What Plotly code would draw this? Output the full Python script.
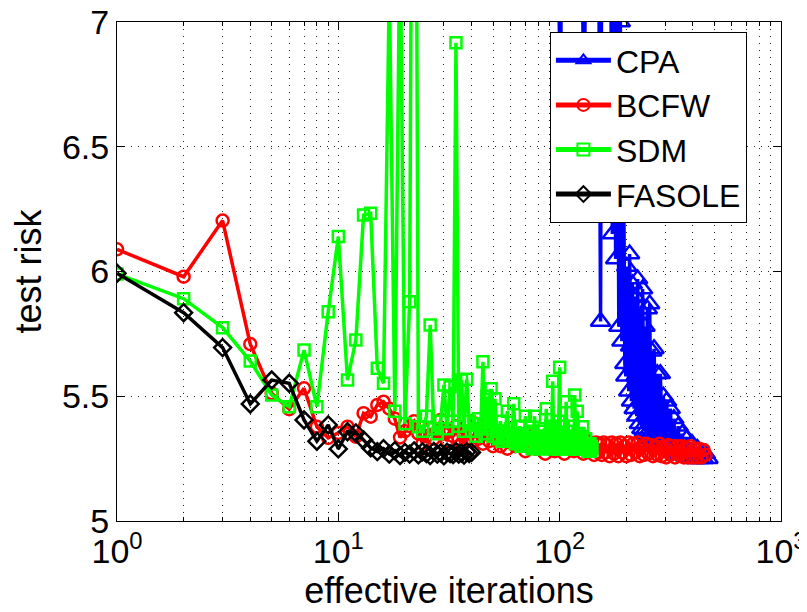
import plotly.graph_objects as go

# effective iterations / test risk

cpa_iters = [60, 75, 88, 101, 106, 121, 129, 136, 146, 153, 157, 166, 170,
             173, 176, 179, 182, 185, 188, 191, 194, 197,
             199, 201, 203, 205, 207, 209, 211, 213, 215, 217, 219, 221, 223, 225,
             227, 229, 231, 233, 235, 237, 239, 241, 243, 245, 247, 249, 251, 253,
             255, 257, 259, 261, 263, 265, 267, 270, 273, 276, 279, 282, 285, 288,
             291, 294, 297, 300, 304, 308, 312, 316, 320, 324, 328, 333, 338, 343,
             348, 353, 358, 364, 370, 376, 382, 389, 396, 403, 411, 419, 427, 436,
             445, 455, 468]
cpa_risk = [14.0, 11.0, 9.5, 6.7, 10.5, 8.5, 6.6, 9.0, 9.5, 5.80, 9.2, 8.0, 7.3,
            6.15, 7.6, 6.05, 7.4, 5.78, 7.0, 5.72, 6.6, 5.63,
            5.58, 6.02, 5.80, 5.52, 6.07, 5.70, 5.48, 5.95, 5.62, 5.45, 5.90, 5.58, 5.42, 5.97,
            5.66, 5.39, 5.85, 5.55, 5.37, 5.93, 5.60, 5.36, 5.78, 5.50, 5.35, 5.85, 5.56, 5.34,
            5.87, 5.48, 5.33, 5.68, 5.45, 5.32, 5.69, 5.42, 5.31, 5.59, 5.40, 5.31, 5.59, 5.38,
            5.30, 5.50, 5.36, 5.29, 5.48, 5.34, 5.29, 5.45, 5.32, 5.28, 5.41, 5.30, 5.27, 5.38,
            5.29, 5.27, 5.35, 5.28, 5.26, 5.33, 5.27, 5.26, 5.31, 5.26, 5.25, 5.29, 5.25, 5.27,
            5.25, 5.27, 5.25]

bcfw_iters = list(range(1, 51)) + [52, 54, 56, 58, 60, 63, 66, 70, 74, 78, 82, 86,
             90, 95, 100, 105, 110, 116, 122, 128, 134,
             140, 143, 146, 149, 152, 155, 158, 161, 164, 168, 172, 176, 180, 184,
             188, 192, 196, 200, 205, 210, 215, 220, 225, 230, 235, 240, 246, 252,
             258, 264, 270, 276, 282, 289, 296, 303, 310, 317, 324, 332, 340, 348,
             356, 364, 372, 381, 390, 399, 408, 417, 427, 437, 447, 456]
bcfw_risk = [6.089, 5.979, 6.204, 5.709, 5.512, 5.448, 5.532, 5.378, 5.333, 5.353,
             5.378, 5.338, 5.432, 5.418, 5.465, 5.478, 5.45, 5.41, 5.335, 5.36,
             5.38, 5.40, 5.35, 5.31, 5.34, 5.37, 5.33, 5.36, 5.405, 5.35,
             5.32, 5.36, 5.34, 5.38, 5.33, 5.31, 5.35, 5.33, 5.36, 5.32,
             5.34, 5.39, 5.33, 5.37, 5.31, 5.35, 5.39, 5.32, 5.34, 5.30,
             5.35, 5.30, 5.34, 5.29, 5.35, 5.30, 5.33, 5.28, 5.34, 5.29, 5.32, 5.27,
             5.33, 5.28, 5.32, 5.27, 5.32, 5.28, 5.31, 5.27, 5.32,
             5.31, 5.265, 5.315, 5.275, 5.31, 5.265, 5.315, 5.275, 5.305, 5.26,
             5.315, 5.27, 5.31, 5.26, 5.315, 5.275, 5.30, 5.26, 5.315, 5.265,
             5.31, 5.275, 5.315, 5.26, 5.30, 5.265, 5.31, 5.27, 5.305, 5.26,
             5.30, 5.265, 5.31, 5.26, 5.30, 5.255, 5.305, 5.265, 5.30, 5.255,
             5.30, 5.265, 5.30, 5.255, 5.295, 5.255, 5.30, 5.255, 5.29, 5.255,
             5.29, 5.255, 5.285, 5.265]

sdm_iters = list(range(1, 141))
sdm_risk = [5.990, 5.891, 5.775, 5.641, 5.505, 5.458, 5.685, 5.458, 5.839, 6.140,
            5.565, 5.725, 6.226, 6.233, 5.612, 5.552, 7.15, 5.440, 7.40, 5.390,
            5.879, 9.80, 5.378, 5.360, 5.420, 5.786, 5.370, 5.350, 5.400, 5.545,
            5.370, 5.538, 5.400, 6.917, 5.380, 5.565, 5.360, 5.568, 5.400, 5.360,
            5.390, 5.340, 5.410, 5.370, 5.638, 5.350, 5.500, 5.370, 5.530, 5.340,
            5.490, 5.360, 5.330, 5.400, 5.320, 5.360, 5.340, 5.440, 5.320, 5.370,
            5.330, 5.470, 5.310, 5.350, 5.320, 5.380, 5.300, 5.340, 5.310, 5.420,
            5.300, 5.350, 5.310, 5.360, 5.290, 5.330, 5.420, 5.300, 5.340, 5.290,
            5.360, 5.310, 5.330, 5.290, 5.370, 5.300, 5.450, 5.300, 5.340, 5.290,
            5.380, 5.300, 5.560, 5.290, 5.350, 5.300, 5.330, 5.290, 5.400, 5.616,
            5.290, 5.350, 5.300, 5.380, 5.290, 5.330, 5.478, 5.300, 5.340, 5.290,
            5.360, 5.290, 5.320, 5.300, 5.380, 5.290, 5.505, 5.300, 5.330, 5.440,
            5.290, 5.350, 5.300, 5.320, 5.290, 5.340, 5.378, 5.290, 5.310, 5.300,
            5.330, 5.290, 5.310, 5.280, 5.300, 5.290, 5.310, 5.280, 5.300, 5.290]

fasole_iters = list(range(1, 41))
fasole_risk = [5.993, 5.835, 5.695, 5.469, 5.565, 5.552, 5.405, 5.320, 5.385, 5.289,
               5.358, 5.353, 5.325, 5.293, 5.278, 5.290, 5.268, 5.282, 5.262, 5.275,
               5.268, 5.281, 5.265, 5.277, 5.270, 5.262, 5.279, 5.268, 5.273, 5.261,
               5.276, 5.270, 5.266, 5.279, 5.268, 5.272, 5.264, 5.277, 5.270, 5.275]

x_tickvals = [1, 10, 100, 1000]
x_ticktext = ['10<sup>0</sup>', '10<sup>1</sup>', '10<sup>2</sup>', '10<sup>3</sup>']
x_minor = [2, 3, 4, 5, 6, 7, 8, 9, 20, 30, 40, 50, 60, 70, 80, 90,
           200, 300, 400, 500, 600, 700, 800, 900]

FONT = 'Liberation Sans, Arial, Helvetica, sans-serif'

fig = go.Figure()

fig.add_trace(go.Scatter(x=cpa_iters, y=cpa_risk, name='CPA', mode='lines+markers',
                         line=dict(color='#0000ff', width=3.5),
                         marker=dict(symbol='triangle-up-open', size=17, color='#0000ff',
                                     line=dict(width=2.5))))
fig.add_trace(go.Scatter(x=bcfw_iters, y=bcfw_risk, name='BCFW', mode='lines+markers',
                         line=dict(color='#ff0000', width=3.5),
                         marker=dict(symbol='circle-open', size=12, color='#ff0000',
                                     line=dict(width=2.5))))
fig.add_trace(go.Scatter(x=sdm_iters, y=sdm_risk, name='SDM', mode='lines+markers',
                         line=dict(color='#00ff00', width=3.5),
                         marker=dict(symbol='square-open', size=11, color='#00ff00',
                                     line=dict(width=2.5))))
fig.add_trace(go.Scatter(x=fasole_iters, y=fasole_risk, name='FASOLE', mode='lines+markers',
                         line=dict(color='#000000', width=3.5),
                         marker=dict(symbol='diamond-open', size=13, color='#000000',
                                     line=dict(width=2.5))))

# page body adds an 8px offset, so the figure is a bit smaller than the window
fig.update_layout(
    width=799, height=604,
    margin=dict(l=109, r=26, t=14, b=91),
    paper_bgcolor='white', plot_bgcolor='white',
    font=dict(family=FONT, size=34, color='black'),
    showlegend=True,
    legend=dict(x=0.652, y=0.98, xanchor='left', yanchor='top',
                bgcolor='white', bordercolor='black', borderwidth=1,
                font=dict(size=32), itemsizing='constant', itemwidth=55,
                tracegroupgap=0),
)

fig.update_xaxes(type='log', range=[0, 3], automargin=False, ticklabeloverflow='allow',
                 tickmode='array', tickvals=x_tickvals, ticktext=x_ticktext,
                 ticks='inside', ticklen=8, tickcolor='black',
                 showline=True, linecolor='black', linewidth=1, mirror='ticks',
                 showgrid=True, gridcolor='#222222', gridwidth=1, griddash='1px,6px',
                 minor=dict(tickvals=x_minor, ticks='inside', ticklen=4, tickcolor='black',
                            showgrid=True, gridcolor='#222222', gridwidth=1, griddash='1px,6px'),
                 zeroline=False,
                 title=dict(text='effective iterations', standoff=0, font=dict(size=36)))

fig.update_yaxes(range=[5, 7], dtick=0.5, tick0=5, automargin=False, ticklabeloverflow='allow',
                 ticks='inside', ticklen=8, tickcolor='black',
                 showline=True, linecolor='black', linewidth=1, mirror='ticks',
                 showgrid=True, gridcolor='#222222', gridwidth=1, griddash='1px,6px',
                 zeroline=False,
                 title=dict(text='test risk', standoff=10, font=dict(size=36)))

fig.write_html('out.html')
